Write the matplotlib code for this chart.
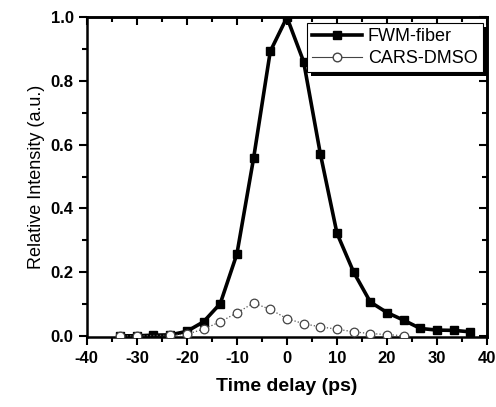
import numpy as np
import matplotlib
matplotlib.use("Agg")
import matplotlib.pyplot as plt
from matplotlib.lines import Line2D
from matplotlib.patches import Rectangle
from matplotlib.ticker import MultipleLocator

plt.rcParams['font.family'] = ['Liberation Sans', 'DejaVu Sans']

# time delay steps (ps)
t_fwm = [-33.33, -30.0, -26.67, -23.33, -20.0, -16.67, -13.33, -10.0, -6.67, -3.33,
         0.0, 3.33, 6.67, 10.0, 13.33, 16.67, 20.0, 23.33, 26.67, 30.0, 33.33, 36.67]
fwm = [0.0, 0.0, 0.002, 0.003, 0.014, 0.044, 0.101, 0.257, 0.557, 0.893,
       1.0, 0.861, 0.572, 0.322, 0.200, 0.106, 0.073, 0.049, 0.023, 0.018, 0.017, 0.0125]

t_cars = [-33.33, -30.0, -23.33, -20.0, -16.67, -13.33, -10.0, -6.67, -3.33,
          0.0, 3.33, 6.67, 10.0, 13.33, 16.67, 20.0, 23.33]
cars = [0.0, 0.0, 0.002, 0.005, 0.021, 0.044, 0.072, 0.103, 0.083,
        0.054, 0.038, 0.028, 0.021, 0.0125, 0.007, 0.004, 0.0]

fig = plt.figure(figsize=(4.96, 4.07), dpi=100)
ax = fig.add_axes([0.175, 0.171, 0.807, 0.7865])

ax.plot(t_fwm, fwm, color='k', lw=2.6, marker='s', ms=6, zorder=2)
ax.plot(t_cars, cars, color='#555555', lw=0.9, ls=':', marker='o', ms=6.2,
        mfc='white', mec='#444444', mew=0.9, zorder=3)

ax.set_xlim(-40, 40)
ax.set_ylim(-0.005, 1.0)
ax.xaxis.set_major_locator(MultipleLocator(10))
ax.xaxis.set_minor_locator(MultipleLocator(5))
ax.yaxis.set_major_locator(MultipleLocator(0.2))
ax.yaxis.set_minor_locator(MultipleLocator(0.1))

for s in ax.spines.values():
    s.set_linewidth(1.8)

ax.tick_params(which='both', direction='out', top=False, right=False, width=1.5)
ax.tick_params(which='major', length=6)
ax.tick_params(which='minor', length=3.5)
# inward ticks on the top and right frame
sec_x = ax.secondary_xaxis('top')
sec_y = ax.secondary_yaxis('right')
for sec in (sec_x, sec_y):
    sec.tick_params(which='both', direction='in', width=1.5)
    sec.tick_params(which='major', length=6)
    sec.tick_params(which='minor', length=3.5)
sec_x.xaxis.set_major_locator(MultipleLocator(10))
sec_x.xaxis.set_minor_locator(MultipleLocator(5))
sec_y.yaxis.set_major_locator(MultipleLocator(0.2))
sec_y.yaxis.set_minor_locator(MultipleLocator(0.1))
sec_x.set_xticklabels([])
sec_y.set_yticklabels([])
sec_x.spines['top'].set_linewidth(1.8)
sec_y.spines['right'].set_linewidth(1.8)

ax.set_xticks([-40, -30, -20, -10, 0, 10, 20, 30, 40])
ax.set_xticklabels(['-40', '-30', '-20', '-10', '0', '10', '20', '30', '40'])
ax.set_yticks([0.0, 0.2, 0.4, 0.6, 0.8, 1.0])
ax.set_yticklabels(['0.0', '0.2', '0.4', '0.6', '0.8', '1.0'])
for lab in ax.get_xticklabels() + ax.get_yticklabels():
    lab.set_fontweight('bold')
    lab.set_fontsize(12)

ax.set_xlabel('Time delay (ps)', fontsize=14, fontweight='bold', labelpad=9)
ax.set_ylabel('Relative Intensity (a.u.)', fontsize=13, labelpad=4)

handles = [
    Line2D([], [], color='k', lw=2.6, marker='s', ms=6),
    Line2D([], [], color='#444444', lw=0.8, marker='o', ms=6.2, mfc='white', mec='#444444'),
]
leg = ax.legend(handles, ['FWM-fiber', 'CARS-DMSO'], loc='upper right',
                bbox_to_anchor=(0.99, 0.982), fontsize=13, frameon=True,
                fancybox=False, framealpha=1.0,
                handlelength=2.8, borderpad=0.3, labelspacing=0.25,
                handletextpad=0.3, borderaxespad=0.0)
leg.get_frame().set_edgecolor('k')
leg.get_frame().set_linewidth(0.8)
leg.set_zorder(5)

# solid drop shadow behind the legend box
fig.canvas.draw()
bb = leg.get_window_extent().transformed(ax.transAxes.inverted())
dx = 4 / ax.bbox.width
dy = 4 / ax.bbox.height
shadow = Rectangle((bb.x0 + dx, bb.y0 - dy), bb.width, bb.height,
                   transform=ax.transAxes, facecolor='k', edgecolor='none',
                   clip_on=False, zorder=4.5)
ax.add_patch(shadow)

fig.savefig('out.png', dpi=100)
